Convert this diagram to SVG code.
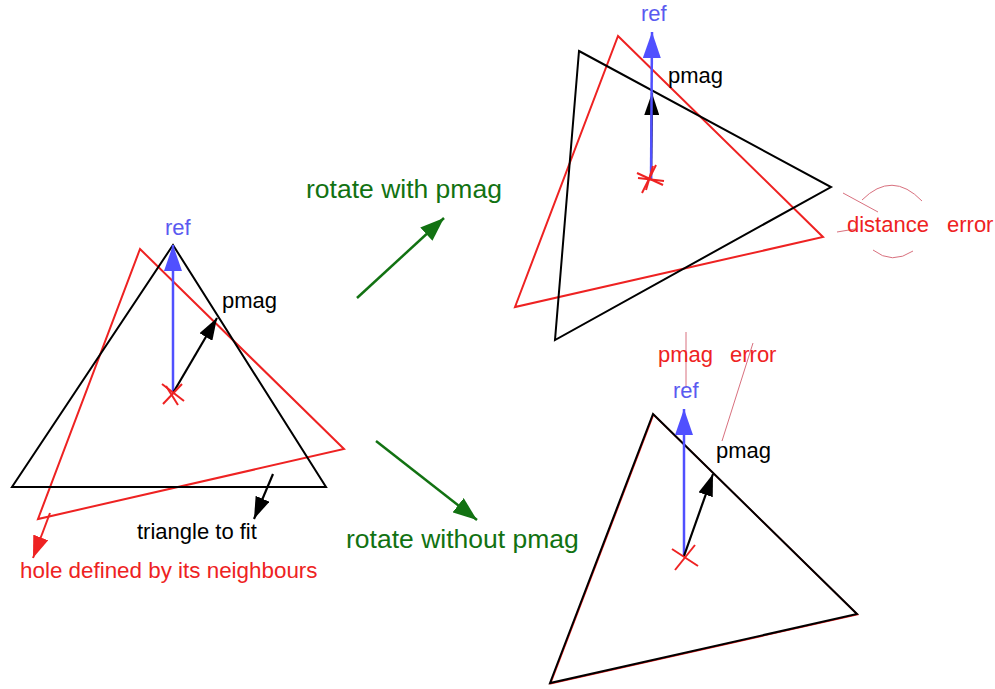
<svg xmlns="http://www.w3.org/2000/svg" width="995" height="689" viewBox="0 0 995 689">
<style>
text{font-family:"Liberation Sans",Arial,sans-serif;font-size:22px}
.blk{fill:none;stroke:#000;stroke-width:2;stroke-linejoin:miter}
.red{fill:none;stroke:#ee2222;stroke-width:2}
.blu{stroke:#5050ff;stroke-width:2.5}
.arr{stroke:#000;stroke-width:2.2}
.grn{stroke:#127212;stroke-width:2.5}
.thin{fill:none;stroke:#d8707e;stroke-width:1}
.tb{fill:#5a5af0}
.tr{fill:#ee2222}
.tk{fill:#000}
.tg{fill:#127212;font-size:26.5px}
.cr{stroke:#ee2222;stroke-width:2}
</style>
<defs>
<marker id="mb" viewBox="0 0 26 18" refX="26" refY="9" markerWidth="26" markerHeight="18" markerUnits="userSpaceOnUse" orient="auto"><path d="M0,0L26,9L0,18z" fill="#5050ff"/></marker>
<marker id="mk" viewBox="0 0 22 15" refX="22" refY="7.5" markerWidth="22" markerHeight="15" markerUnits="userSpaceOnUse" orient="auto"><path d="M0,0L22,7.5L0,15z" fill="#000"/></marker>
<marker id="mr" viewBox="0 0 22 16" refX="22" refY="8" markerWidth="22" markerHeight="16" markerUnits="userSpaceOnUse" orient="auto"><path d="M0,0L22,8L0,16z" fill="#ee2222"/></marker>
<marker id="mg" viewBox="0 0 24 18" refX="24" refY="9" markerWidth="24" markerHeight="18" markerUnits="userSpaceOnUse" orient="auto"><path d="M0,0L24,9L0,18z" fill="#127212"/></marker>
</defs>

<g id="left">
<polygon class="red" points="140,249 344,449 38,519"/>
<polygon class="blk" points="173,245 12,487 326,487"/>
<line class="blu" x1="173" y1="393" x2="173" y2="245" marker-end="url(#mb)"/>
<line class="arr" x1="173" y1="393" x2="217" y2="318" marker-end="url(#mk)"/>
<g class="cr"><line x1="162" y1="384" x2="184" y2="401"/><line x1="163" y1="404" x2="182" y2="384"/><line x1="166" y1="386" x2="178" y2="405"/></g>
<line class="arr" x1="273" y1="474" x2="254" y2="519" marker-end="url(#mk)"/>
<line class="red" x1="50" y1="513" x2="33" y2="558" marker-end="url(#mr)"/>
<text class="tb" x="165" y="235">ref</text>
<text class="tk" x="222" y="308">pmag</text>
<text class="tk" x="137" y="539">triangle to fit</text>
<text class="tr" x="20" y="578" style="font-size:22.4px">hole defined by its neighbours</text>
</g>

<g id="connectors">
<line class="grn" x1="357" y1="298" x2="444" y2="218" marker-end="url(#mg)"/>
<line class="grn" x1="376" y1="441" x2="477" y2="520" marker-end="url(#mg)"/>
<text class="tg" x="306" y="198">rotate with pmag</text>
<text class="tg" x="346" y="548">rotate without pmag</text>
</g>

<g id="topright">
<polygon class="red" points="618,36 823,237 515,307"/>
<polygon class="blk" points="579,51 831,187 555,340"/>
<line class="arr" x1="651" y1="180" x2="652" y2="93" marker-end="url(#mk)"/>
<line class="blu" x1="651" y1="180" x2="652" y2="32" marker-end="url(#mb)"/>
<g class="cr"><line x1="637" y1="173" x2="663" y2="185"/><line x1="642" y1="193" x2="656" y2="165"/><line x1="638" y1="178" x2="664" y2="181"/><line x1="646" y1="190" x2="653" y2="166"/></g>
<text class="tb" x="641" y="21">ref</text>
<text class="tk" x="668" y="83">pmag</text>
<g class="thin"><line x1="843" y1="193" x2="878" y2="212"/><line x1="837" y1="232" x2="855" y2="229"/><path d="M862,200 Q892,170 922,201"/><path d="M873,250 Q892,265 913,251"/></g>
<text class="tr" x="847" y="232">distance</text>
<text class="tr" x="947" y="232">error</text>
</g>

<g id="bottomright">
<polygon class="red" points="653.6,414.6 857.6,614.6 550.6,683.6" style="stroke-width:1.5"/>
<polygon class="blk" points="653,414 857,614 550,683"/>
<line class="blu" x1="684" y1="556" x2="684" y2="409" marker-end="url(#mb)"/>
<line class="arr" x1="684" y1="556" x2="713" y2="474" marker-end="url(#mk)"/>
<g class="cr"><line x1="672" y1="549" x2="698" y2="566"/><line x1="675" y1="570" x2="695" y2="545"/></g>
<g class="thin"><line x1="686" y1="332" x2="686" y2="388"/><line x1="753" y1="343" x2="722" y2="441"/></g>
<text class="tr" x="658" y="362">pmag</text>
<text class="tr" x="730" y="362">error</text>
<text class="tb" x="673" y="398">ref</text>
<text class="tk" x="716" y="458">pmag</text>
</g>
</svg>
